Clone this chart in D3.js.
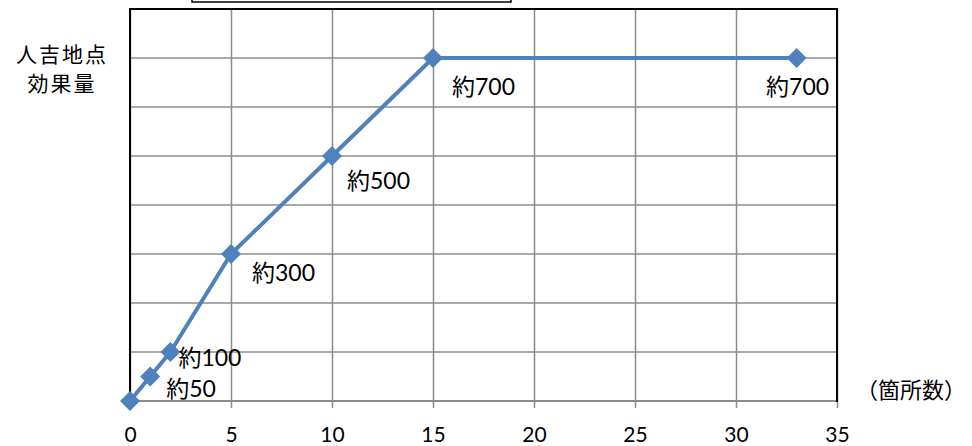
<!DOCTYPE html>
<html>
<head>
<meta charset="utf-8">
<script src="https://cdn.jsdelivr.net/npm/d3@7"></script>
<style>
  body { margin: 0; background: #fff; }
  svg text { font-family: Lato, "Noto Sans CJK JP", sans-serif; fill: #000; }
</style>
</head>
<body>
<div id="chart"></div>
<script>
// 箇所数 vs 人吉地点効果量
const sites = [0, 1, 2, 5, 10, 15, 33];
const effect = [0, 50, 100, 300, 500, 700, 700];
const pointLabels = ["", "約50", "約100", "約300", "約500", "約700", "約700"];
const xTicks = [0, 5, 10, 15, 20, 25, 30, 35];
const yGrid = [0, 100, 200, 300, 400, 500, 600, 700, 800];

// label offsets (px) relative to each marker
const labelPos = [
  null,
  { dx: 16, dy: 12, anchor: "start" },
  { dx: 8, dy: 6, anchor: "start" },
  { dx: 21, dy: 19, anchor: "start" },
  { dx: 15, dy: 25, anchor: "start" },
  { dx: 19, dy: 29, anchor: "start" },
  { dx: 1, dy: 29, anchor: "middle" }
];

const width = 972, height = 446;
const margin = { top: 9, right: 135, bottom: 45, left: 130 };

const svg = d3.select("#chart").append("svg")
  .attr("width", width)
  .attr("height", height);

const x = d3.scaleLinear().domain([0, 35]).range([margin.left, width - margin.right]);
const y = d3.scaleLinear().domain([0, 800]).range([height - margin.bottom, margin.top]);

// legend box, cut off at top
svg.append("rect")
  .attr("x", 192).attr("y", -20)
  .attr("width", 319).attr("height", 22)
  .attr("fill", "#fff").attr("stroke", "#000").attr("stroke-width", 1.5);

// horizontal grid
svg.append("g")
  .selectAll("line")
  .data(yGrid)
  .join("line")
  .attr("x1", x(0)).attr("x2", x(35))
  .attr("y1", d => y(d)).attr("y2", d => y(d))
  .attr("stroke", "#8c8c8c").attr("stroke-width", 1.5);

// x axis with vertical grid
const xAxis = svg.append("g")
  .attr("transform", `translate(0,${y(0)})`)
  .call(d3.axisBottom(x).tickValues(xTicks).tickSizeOuter(0).tickPadding(20));
xAxis.select(".domain").remove();
xAxis.selectAll(".tick line")
  .attr("y2", 7)
  .attr("y1", -(y(0) - y(800)))
  .attr("stroke", "#8c8c8c").attr("stroke-width", 1.5);
xAxis.selectAll(".tick text")
  .style("font-size", "21px")
  .attr("fill", "#000");

// plot border
svg.append("rect")
  .attr("x", x(0)).attr("y", y(800))
  .attr("width", x(35) - x(0)).attr("height", y(0) - y(800))
  .attr("fill", "none").attr("stroke", "#000").attr("stroke-width", 2);

// bottom edge is grey gridline
svg.append("line")
  .attr("x1", x(0) + 1).attr("x2", x(35) - 1)
  .attr("y1", y(0)).attr("y2", y(0))
  .attr("stroke", "#8c8c8c").attr("stroke-width", 2);

const data = sites.map((s, i) => ({ s, v: effect[i], label: pointLabels[i], pos: labelPos[i] }));

// line
svg.append("path")
  .datum(data)
  .attr("fill", "none")
  .attr("stroke", "#4f81bd")
  .attr("stroke-width", 4)
  .attr("stroke-linejoin", "round")
  .attr("d", d3.line().x(d => x(d.s)).y(d => y(d.v)));

// markers
svg.append("g")
  .selectAll("path")
  .data(data)
  .join("path")
  .attr("transform", d => `translate(${x(d.s)},${y(d.v)})`)
  .attr("d", "M0,-10L10,0L0,10L-10,0Z")
  .attr("fill", "#4f81bd");

// point labels
svg.append("g")
  .selectAll("text")
  .data(data.filter(d => d.label))
  .join("text")
  .attr("x", d => x(d.s) + d.pos.dx)
  .attr("y", d => y(d.v) + d.pos.dy)
  .attr("dy", "0.35em")
  .attr("text-anchor", d => d.pos.anchor)
  .style("font-size", "23px")
  .text(d => d.label);

// y title
const yTitle = svg.append("g")
  .style("font-size", "21px")
  .style("letter-spacing", "2px")
  .attr("text-anchor", "middle");
yTitle.append("text").attr("x", 62).attr("y", 55).attr("dy", "0.35em").text("人吉地点");
yTitle.append("text").attr("x", 62).attr("y", 84).attr("dy", "0.35em").text("効果量");

// x unit
svg.append("text")
  .attr("x", 856).attr("y", 390).attr("dy", "0.35em")
  .style("font-size", "22px")
  .text("（箇所数）");
</script>
</body>
</html>
